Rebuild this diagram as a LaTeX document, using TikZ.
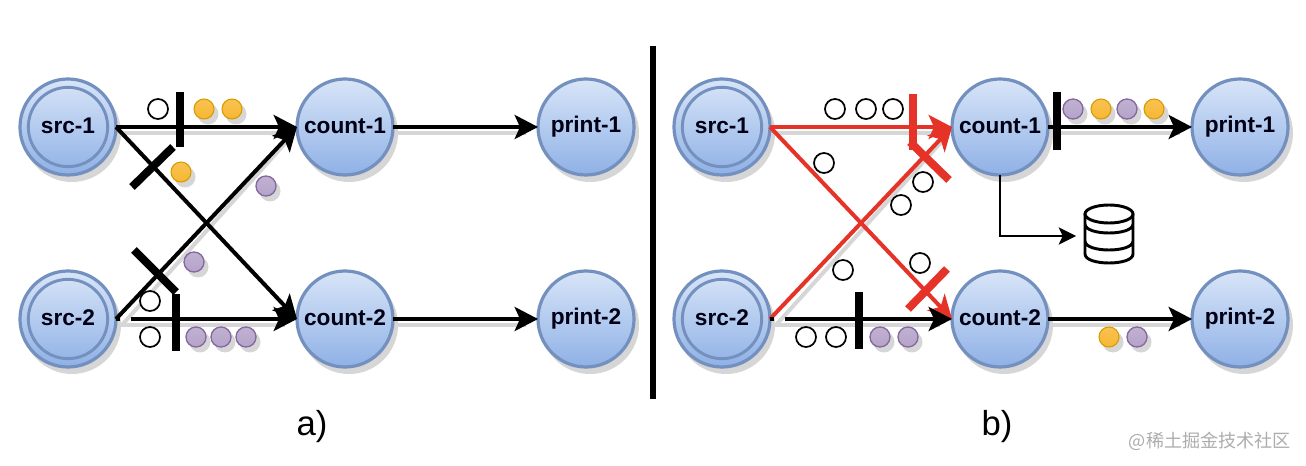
\documentclass[tikz,border=0pt]{standalone}
\usepackage{fontspec}
\setmainfont{Liberation Sans}
\newfontfamily\cjkwm{Noto Sans CJK SC}
\usetikzlibrary{arrows.meta,calc}
\definecolor{procedge}{HTML}{7390BE}
\definecolor{proctop}{HTML}{D8E5F8}
\definecolor{procbot}{HTML}{8FB1E6}
\definecolor{shadowgray}{HTML}{D6D6D6}
\definecolor{redline}{HTML}{E63328}
\definecolor{yfill}{HTML}{F7B733}
\definecolor{yedge}{HTML}{D79B00}
\definecolor{pfill}{HTML}{B5A3C9}
\definecolor{pedge}{HTML}{84699E}
\tikzset{
  proc/.style={circle,draw=procedge,line width=2.4pt,top color=proctop,bottom color=procbot,minimum size=72pt,inner sep=0pt,outer sep=0pt},
  procin/.style={circle,draw=procedge,line width=2.2pt,minimum size=59.5pt,inner sep=0pt,outer sep=0pt},
  proctext/.style={font=\bfseries\fontsize{17pt}{19pt}\selectfont,text=black!92!blue,inner sep=0pt},
  flow/.style={line width=3pt,-{Stealth[length=17.5pt,width=18pt,inset=4pt]}},
  redflow/.style={flow,draw=redline},
  redthin/.style={line width=3pt,draw=redline,-{Stealth[length=17.5pt,width=18pt,inset=5pt]}},
  flowshadow/.style={line width=3pt,draw=shadowgray},
  barmark/.style={line width=6pt},
  redbar/.style={barmark,draw=redline},
  odot/.style={circle,draw=black,line width=1.3pt,fill=white,minimum size=15pt,inner sep=0pt},
  ydot/.style={circle,draw=yedge,line width=.8pt,top color=yfill!85!white,bottom color=yfill,minimum size=15pt,inner sep=0pt},
  pdot/.style={circle,draw=pedge,line width=1pt,top color=pfill!85!white,bottom color=pfill,minimum size=15pt,inner sep=0pt},
  dotsh/.style={fill=shadowgray},
  caption/.style={font=\fontsize{26pt}{30pt}\selectfont,inner sep=0pt},
}
\newcommand{\procnode}[3]{%
  \fill[shadowgray] #2 +(4,6) circle (49);
  \node[proc] (#1) at #2 {};
  \node[proctext] (#1-t) at #2 {\raisebox{2pt}{#3}};
}
\newcommand{\srcnode}[3]{%
  \fill[shadowgray] #2 +(4,6) circle (49);
  \node[proc] (#1) at #2 {};
  \node[procin] (#1-i) at #2 {};
  \node[proctext] (#1-t) at #2 {\raisebox{2pt}{#3}};
}
\begin{document}
\begin{tikzpicture}[x=.75pt,y=-.75pt]
\useasboundingbox (0,0) rectangle (1306,466);
\fill[white] (0,0) rectangle (1306,466);

% ---- nodes, panel a
\srcnode{sa1}{(68,127)}{src-1}
\srcnode{sa2}{(68,319)}{src-2}
\procnode{ca1}{(345,127)}{count-1}
\procnode{ca2}{(345,319)}{count-2}
\procnode{pa1}{(586,127)}{print-1}
\procnode{pa2}{(586,319)}{print-2}
% ---- nodes, panel b
\srcnode{sb1}{(722,127)}{src-1}
\srcnode{sb2}{(722,319)}{src-2}
\procnode{cb1}{(1000,127)}{count-1}
\procnode{cb2}{(1000,319)}{count-2}
\procnode{pb1}{(1240,127)}{print-1}
\procnode{pb2}{(1240,319)}{print-2}

% ---- connector shadows
\foreach \a/\b in {sa1/ca1,sa2/ca2,ca1/pa1,ca2/pa2,sb1/cb1,sb2/cb2,cb1/pb1,cb2/pb2}
  \draw[flowshadow] ([shift={(4,6)}]\a.east) -- ([shift={(-12,6)}]\b.west);
\draw[flowshadow] ([shift={(6,6)}]sa2.east) -- ([shift={(-8,12)}]ca1.west);
\draw[flowshadow] ([shift={(6,6)}]sb2.east) -- ([shift={(-8,12)}]cb1.west);

% ---- connectors, panel a
\draw[flow] (sa1.east) -- (ca1.west);
\draw[flow] (sa1.east) -- (ca2.west);
\draw[flow] (sa2.east) -- (ca1.west);
\draw[flow] ([xshift=11]sa2.east) -- (ca2.west);
\draw[line width=3pt] (sa2.east) -- ++(4,0);
\draw[flow] (ca1.east) -- (pa1.west);
\draw[flow] (ca2.east) -- (pa2.west);
% ---- connectors, panel b
\draw[redflow] (sb1.east) -- (cb1.west);
\draw[redthin] (sb1.east) -- (cb2.west);
\draw[redthin] (sb2.east) -- (cb1.west);
\draw[flow] ([xshift=11]sb2.east) -- (cb2.west);
\draw[line width=3pt] (sb2.east) -- ++(4,0);
\draw[flow] (cb1.east) -- (pb1.west);
\draw[flow] (cb2.east) -- (pb2.west);
\coordinate (dbin) at (1076,236);
\draw[line width=1.3pt,-{Stealth[length=13pt,width=13pt,inset=3pt]}] (cb1.south) |- (dbin);

% ---- barriers
\draw[barmark] (180,92) -- (180,147);
\draw[barmark] (132,187) -- (173,147);
\draw[barmark] (134,250) -- (176,292);
\draw[barmark] (176,294) -- (176,351);
\draw[redbar] (913,94) -- (913,150);
\draw[redbar] (910,142) -- (949,180);
\draw[redbar] (947,269) -- (908,309);
\draw[barmark] (859,292) -- (859,349);
\draw[barmark] (1057,92) -- (1057,150);

% ---- records
\foreach \p [count=\i] in {(204,109),(232,109),(181,172),(1101,109),(1154,109),(1109,337)}{
  \fill[dotsh] \p +(4,5) circle (10.5);
  \node[ydot] (y\i) at \p {};
}
\foreach \p [count=\i] in {(266,186),(194,262),(196,337),(221,337),(246,337),(880,337),(908,337),(1073,109),(1127,109),(1137,337)}{
  \fill[dotsh] \p +(4,5) circle (10.5);
  \node[pdot] (v\i) at \p {};
}
\foreach \p [count=\i] in {(158,109),(150,301),(150,337),(835,109),(866,109),(893,109),(824,163),(923,182),(901,205),(843,270),(920,263),(806,337),(836,337)}
  \node[odot] (o\i) at \p {};

% ---- database icon
\draw[line width=2.2pt] (1109,214) ellipse (24 and 9);
\draw[line width=2.2pt,line join=round]
  (1085,214) -- (1085,254) .. controls (1085,266) and (1133,266) .. (1133,254) -- (1133,214)
  (1085,224) .. controls (1085,236) and (1133,236) .. (1133,224)
  (1085,241) .. controls (1085,253) and (1133,253) .. (1133,241);

% ---- divider and captions
\draw[line width=5.2pt] (653,46) -- (653,399);
\node[caption] (capa) at (312,427) {a)};
\node[caption] (capb) at (997,427) {b)};
\node[text=black!32,inner sep=0pt,font=\cjkwm\fontsize{13.6pt}{16pt}\selectfont] (wm) at (1210,441) {@稀土掘金技术社区};
\end{tikzpicture}
\end{document}
